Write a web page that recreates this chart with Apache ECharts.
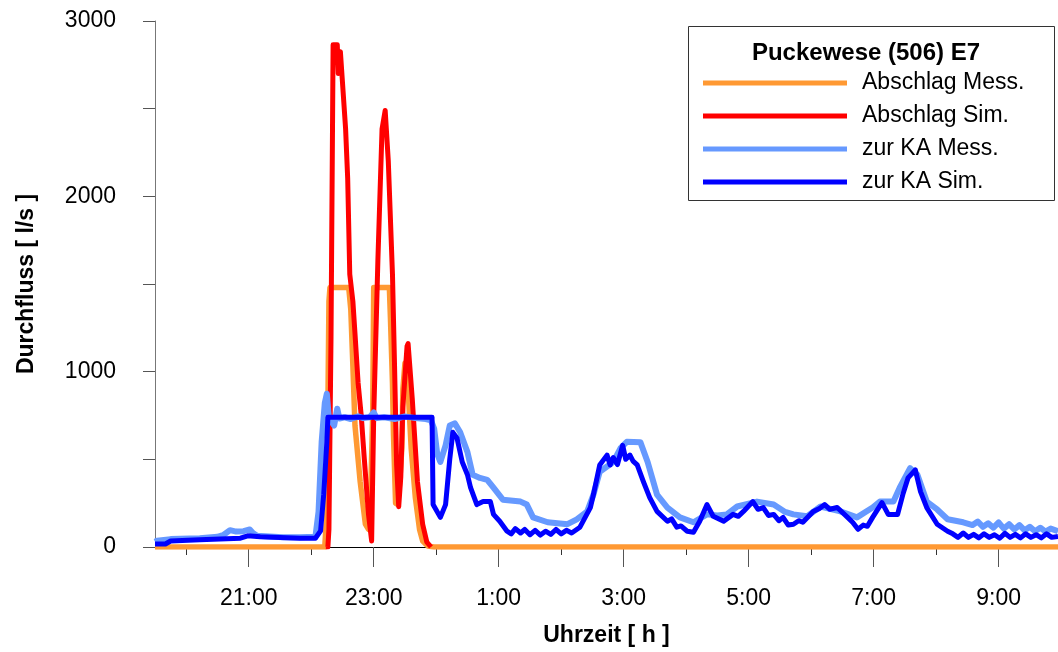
<!DOCTYPE html>
<html>
<head>
<meta charset="utf-8">
<script src="https://cdn.jsdelivr.net/npm/echarts@6/dist/echarts.min.js"></script>
<style>
  html, body { margin: 0; padding: 0; background: #fff; }
  #chart { width: 1058px; height: 652px; }
</style>
</head>
<body>
<div id="chart"></div>
<script>
// Durchfluss at Puckewese (506) E7, overnight event, [time, l/s]
const abschlagMess = [
  ['19:30', 0], ['22:13', 0], ['22:15', 200], ['22:16', 800], ['22:17', 1400], ['22:18', 1480],
  ['22:36', 1480], ['22:38', 1353], ['22:40', 1032], ['22:42', 693], ['22:47', 372],
  ['22:52', 130], ['22:55', 100], ['22:57', 282], ['22:59', 750], ['23:00', 1480],
  ['23:15', 1480], ['23:16', 1314], ['23:18', 936], ['23:19', 637], ['23:21', 250],
  ['23:23', 242], ['23:25', 372], ['23:27', 564], ['23:28', 900], ['23:30', 1050],
  ['23:33', 900], ['23:36', 560], ['23:40', 280], ['23:44', 100], ['23:47', 34],
  ['23:52', 5], ['23:58', 0], ['9:57', 0]
];

const abschlagSim = [
  ['22:14', 0], ['22:16', 0], ['22:17', 100], ['22:19', 1200], ['22:21', 2865],
  ['22:25', 2865], ['22:26', 2700], ['22:28', 2825], ['22:30', 2650], ['22:33', 2385],
  ['22:35', 2103], ['22:37', 1556], ['22:40', 1400], ['22:42', 1218], ['22:45', 936],
  ['22:48', 750], ['22:51', 500], ['22:55', 186], ['22:58', 34], ['23:00', 750],
  ['23:04', 1635], ['23:08', 2385], ['23:11', 2490], ['23:14', 2200], ['23:18', 1556],
  ['23:20', 1032], ['23:22', 468], ['23:24', 230], ['23:26', 400], ['23:28', 800],
  ['23:32', 1145], ['23:33', 1160], ['23:37', 846], ['23:42', 372], ['23:47', 130],
  ['23:51', 28], ['23:55', 0]
];

const zurKAMess = [
  ['19:30', 30], ['19:32', 36], ['19:45', 45], ['20:13', 50], ['20:30', 58], ['20:36', 70],
  ['20:42', 96], ['20:48', 88], ['20:55', 90], ['21:01', 100], ['21:04', 80], ['21:08', 64],
  ['21:20', 60], ['21:33', 56], ['21:49', 55], ['22:04', 58], ['22:07', 200], ['22:10', 600],
  ['22:13', 820], ['22:15', 874], ['22:17', 733], ['22:20', 710], ['22:22', 693],
  ['22:25', 789], ['22:27', 733], ['22:32', 740], ['22:38', 730], ['22:45', 745],
  ['22:50', 735], ['22:56', 740], ['23:00', 767], ['23:03', 735], ['23:10', 740],
  ['23:20', 730], ['23:30', 745], ['23:40', 735], ['23:50', 730], ['23:55', 722],
  ['23:58', 676], ['0:01', 530], ['0:04', 485], ['0:09', 580], ['0:13', 693], ['0:18', 705],
  ['0:23', 654], ['0:30', 541], ['0:35', 412], ['0:42', 394], ['0:49', 383], ['0:55', 338],
  ['1:04', 270], ['1:21', 259], ['1:27', 242], ['1:33', 169], ['1:47', 141], ['2:06', 130],
  ['2:15', 158], ['2:25', 203], ['2:31', 299], ['2:37', 429], ['2:50', 485], ['2:57', 564],
  ['3:03', 600], ['3:16', 598], ['3:23', 485], ['3:32', 299], ['3:42', 225], ['3:54', 169],
  ['4:07', 141], ['4:20', 186], ['4:30', 180], ['4:39', 186], ['4:49', 231], ['5:08', 259],
  ['5:24', 242], ['5:35', 200], ['5:43', 186], ['5:56', 175], ['6:09', 231], ['6:28', 203],
  ['6:44', 169], ['6:59', 225], ['7:06', 259], ['7:19', 259], ['7:25', 338], ['7:35', 450],
  ['7:42', 412], ['7:51', 259], ['8:01', 214], ['8:11', 158], ['8:26', 141], ['8:35', 125],
  ['8:40', 145], ['8:45', 115], ['8:50', 135], ['8:55', 110], ['9:00', 140], ['9:05', 105],
  ['9:10', 130], ['9:15', 100], ['9:20', 125], ['9:25', 95], ['9:30', 115], ['9:35', 90],
  ['9:40', 110], ['9:45', 88], ['9:50', 105], ['9:57', 90]
];

const zurKASim = [
  ['19:30', 17], ['19:40', 17], ['19:45', 34], ['20:13', 41], ['20:52', 50], ['20:59', 64],
  ['21:11', 58], ['21:49', 50], ['22:04', 50], ['22:09', 92], ['22:12', 300], ['22:15', 600],
  ['22:16', 740], ['23:56', 740], ['23:57', 242], ['0:04', 169], ['0:09', 242], ['0:13', 500],
  ['0:16', 654], ['0:20', 620], ['0:25', 485], ['0:30', 412], ['0:33', 338], ['0:39', 242],
  ['0:45', 259], ['0:52', 259], ['0:55', 186], ['1:01', 147], ['1:08', 90], ['1:12', 75],
  ['1:16', 105], ['1:21', 80], ['1:25', 100], ['1:30', 70], ['1:35', 95], ['1:40', 68],
  ['1:45', 90], ['1:50', 72], ['1:55', 100], ['2:00', 75], ['2:05', 95], ['2:10', 80],
  ['2:18', 113], ['2:28', 225], ['2:31', 300], ['2:35', 412], ['2:37', 468], ['2:44', 524],
  ['2:47', 468], ['2:50', 510], ['2:54', 470], ['2:59', 580], ['3:02', 500], ['3:06', 524],
  ['3:09', 490], ['3:13', 468], ['3:19', 372], ['3:25', 282], ['3:32', 203], ['3:42', 147],
  ['3:46', 160], ['3:51', 113], ['3:55', 120], ['4:01', 90], ['4:07', 84], ['4:13', 147],
  ['4:20', 242], ['4:26', 175], ['4:36', 147], ['4:45', 186], ['4:50', 175], ['4:55', 203],
  ['5:04', 259], ['5:09', 215], ['5:14', 225], ['5:19', 180], ['5:24', 186], ['5:29', 150],
  ['5:33', 169], ['5:38', 125], ['5:43', 130], ['5:48', 150], ['5:52', 141], ['6:02', 203],
  ['6:08', 220], ['6:13', 242], ['6:18', 215], ['6:25', 225], ['6:35', 169], ['6:40', 140],
  ['6:45', 101], ['6:50', 125], ['6:54', 118], ['6:59', 169], ['7:08', 253], ['7:14', 186],
  ['7:23', 186], ['7:28', 299], ['7:33', 394], ['7:37', 420], ['7:40', 440], ['7:45', 316],
  ['7:51', 225], ['8:01', 130], ['8:11', 90], ['8:16', 75], ['8:21', 55], ['8:26', 80],
  ['8:31', 55], ['8:36', 72], ['8:41', 52], ['8:46', 75], ['8:51', 55], ['8:56', 70],
  ['9:01', 50], ['9:06', 78], ['9:11', 55], ['9:16', 72], ['9:21', 52], ['9:26', 75],
  ['9:31', 55], ['9:36', 70], ['9:41', 52], ['9:46', 75], ['9:51', 55], ['9:57', 60]
];

const seriesNames = ['Abschlag Mess.', 'Abschlag Sim.', 'zur KA Mess.', 'zur KA Sim.'];
const seriesColors = ['#FF9933', '#FF0000', '#6699FF', '#0000FF'];
const labelTimes = ['21:00', '23:00', '1:00', '3:00', '5:00', '7:00', '9:00'];
const minorTimes = ['20:00', '22:00', '0:00', '2:00', '4:00', '6:00', '8:00'];
const timeStart = '19:30';
const timeEnd = '9:57';

// clock time -> hours on a continuous night axis (after midnight continues past 24)
function toHour(s) {
  const [h, m] = s.split(':').map(Number);
  let v = h + m / 60;
  if (v < 12) v += 24;
  return v;
}
const toPoints = arr => arr.map(([t, v]) => [toHour(t), v]);

const FONT = 'Liberation Sans, Arial, sans-serif';
const xMin = toHour(timeStart);
const xMax = toHour(timeEnd);

const chart = echarts.init(document.getElementById('chart'), null, { renderer: 'canvas' });

const datasets = [abschlagMess, abschlagSim, zurKAMess, zurKASim];
const widths = [5.5, 5, 6, 5];

chart.setOption({
  animation: false,
  backgroundColor: '#fff',
  grid: { left: 155, right: 0, top: 21, bottom: 99, containLabel: false },
  xAxis: [
    {
      type: 'value', min: xMin, max: xMax,
      name: 'Uhrzeit [ h ]', nameLocation: 'middle', nameGap: 77,
      nameTextStyle: { fontFamily: FONT, fontSize: 23, fontWeight: 'bold', color: '#000' },
      axisLine: { show: true, onZero: false, lineStyle: { color: '#000', width: 1 } },
      axisTick: { show: true, length: 20, customValues: labelTimes.map(toHour),
                  lineStyle: { color: '#555', width: 1 } },
      axisLabel: { show: true, customValues: labelTimes.map(toHour), margin: 40,
                   fontFamily: FONT, fontSize: 23, color: '#000',
                   formatter: v => (Math.round(v) % 24) + ':00' },
      splitLine: { show: false }
    },
    {
      type: 'value', min: xMin, max: xMax, position: 'bottom',
      axisLine: { show: false },
      axisTick: { show: true, length: 8, customValues: minorTimes.map(toHour),
                  lineStyle: { color: '#333', width: 1 } },
      axisLabel: { show: false },
      splitLine: { show: false }
    }
  ],
  yAxis: {
    type: 'value', min: 0, max: 3000, interval: 500,
    name: 'Durchfluss [ l/s ]', nameLocation: 'middle', nameGap: 117,
    nameTextStyle: { fontFamily: FONT, fontSize: 23, fontWeight: 'bold', color: '#000' },
    axisLine: { show: true, lineStyle: { color: '#777', width: 1 } },
    axisTick: { show: true, length: 12, lineStyle: { color: '#555', width: 1 } },
    axisLabel: { margin: 39, fontFamily: FONT, fontSize: 23, color: '#000',
                 formatter: v => (v % 1000 === 0 ? String(v) : '') },
    splitLine: { show: false }
  },
  legend: {
    orient: 'vertical', left: 703, top: 69, padding: 0,
    icon: 'rect', itemWidth: 144, itemHeight: 5, itemGap: 5,
    selectedMode: false,
    data: seriesNames,
    textStyle: { fontFamily: FONT, fontSize: 23, color: '#000', lineHeight: 28,
                 padding: [0, 0, 0, 10] }
  },
  graphic: [
    { type: 'rect', z: 1, shape: { x: 688.5, y: 26.5, width: 366, height: 174 },
      style: { fill: 'rgba(255,255,255,0)', stroke: '#333', lineWidth: 1 } },
    { type: 'text', z: 2, x: 866, y: 53,
      style: { text: 'Puckewese (506) E7', font: 'bold 24px ' + FONT, fill: '#000',
               textAlign: 'center', textVerticalAlign: 'middle' } }
  ],
  series: datasets.map((d, i) => ({
    name: seriesNames[i],
    type: 'line',
    data: toPoints(d),
    showSymbol: false,
    symbol: 'none',
    z: 2 + i,
    color: seriesColors[i],
    lineStyle: { color: seriesColors[i], width: widths[i], join: 'round' },
    clip: true
  }))
});
</script>
</body>
</html>
